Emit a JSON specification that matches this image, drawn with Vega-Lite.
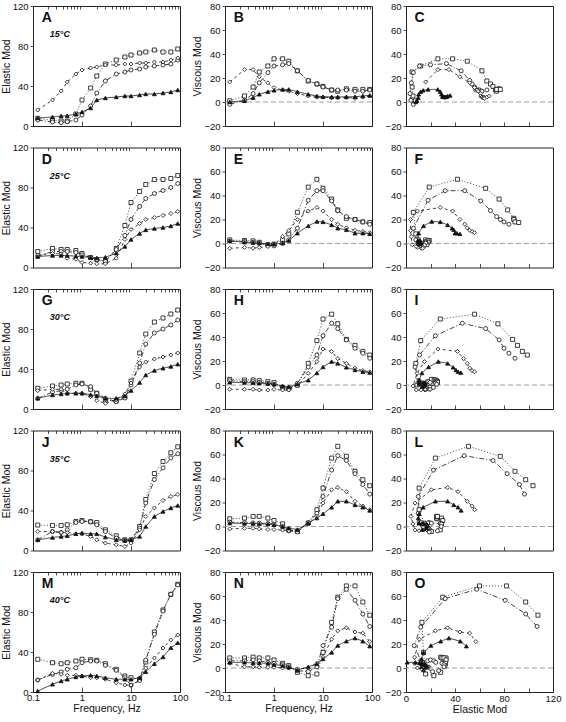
{
"$schema": "https://vega.github.io/schema/vega-lite/v6.json",
"background": "white",
"padding": {"left": 0, "top": 0, "right": 0, "bottom": 0},
"datasets": {"d": [
{"t":15,"s":"sq","f":0.125,"e":7.7,"v":1},{"t":15,"s":"sq","f":0.25,"e":5.7,"v":5},{"t":15,"s":"sq","f":0.375,"e":5,"v":12.5},{"t":15,"s":"sq","f":0.5,"e":5,"v":25},{"t":15,"s":"sq","f":0.75,"e":12,"v":30},{"t":15,"s":"sq","f":1,"e":26,"v":36},{"t":15,"s":"sq","f":1.5,"e":38,"v":36},{"t":15,"s":"sq","f":2,"e":50,"v":34},{"t":15,"s":"sq","f":3,"e":62,"v":26},{"t":15,"s":"sq","f":5,"e":66,"v":17.5},{"t":15,"s":"sq","f":7.5,"e":69,"v":15},{"t":15,"s":"sq","f":10,"e":71,"v":13},{"t":15,"s":"sq","f":15,"e":73,"v":10},{"t":15,"s":"sq","f":20,"e":74,"v":9},{"t":15,"s":"sq","f":30,"e":76,"v":11},{"t":15,"s":"sq","f":45,"e":74,"v":10.5},{"t":15,"s":"sq","f":65,"e":74,"v":10.5},{"t":15,"s":"sq","f":90,"e":77,"v":10.5},
{"t":15,"s":"ci","f":0.125,"e":6,"v":-2},{"t":15,"s":"ci","f":0.25,"e":4,"v":1.4},{"t":15,"s":"ci","f":0.375,"e":3.3,"v":7},{"t":15,"s":"ci","f":0.5,"e":4.3,"v":16},{"t":15,"s":"ci","f":0.75,"e":6,"v":24.5},{"t":15,"s":"ci","f":1,"e":11,"v":30},{"t":15,"s":"ci","f":1.5,"e":20,"v":31},{"t":15,"s":"ci","f":2,"e":33,"v":32},{"t":15,"s":"ci","f":3,"e":45,"v":26},{"t":15,"s":"ci","f":5,"e":52,"v":18},{"t":15,"s":"ci","f":7.5,"e":54,"v":15},{"t":15,"s":"ci","f":10,"e":56,"v":12.5},{"t":15,"s":"ci","f":15,"e":57,"v":10},{"t":15,"s":"ci","f":20,"e":59,"v":10},{"t":15,"s":"ci","f":30,"e":60,"v":10},{"t":15,"s":"ci","f":45,"e":61,"v":9},{"t":15,"s":"ci","f":65,"e":62,"v":9},{"t":15,"s":"ci","f":90,"e":66,"v":10},
{"t":15,"s":"di","f":0.125,"e":16,"v":16.7},{"t":15,"s":"di","f":0.25,"e":26,"v":27},{"t":15,"s":"di","f":0.375,"e":35,"v":27},{"t":15,"s":"di","f":0.5,"e":44,"v":21},{"t":15,"s":"di","f":0.75,"e":52,"v":16},{"t":15,"s":"di","f":1,"e":56,"v":12},{"t":15,"s":"di","f":1.5,"e":58,"v":10},{"t":15,"s":"di","f":2,"e":59,"v":9},{"t":15,"s":"di","f":3,"e":61,"v":7},{"t":15,"s":"di","f":5,"e":61,"v":5},{"t":15,"s":"di","f":7.5,"e":62,"v":4},{"t":15,"s":"di","f":10,"e":62,"v":4},{"t":15,"s":"di","f":15,"e":63,"v":3.6},{"t":15,"s":"di","f":20,"e":63,"v":3.6},{"t":15,"s":"di","f":30,"e":64,"v":4},{"t":15,"s":"di","f":45,"e":64,"v":3},{"t":15,"s":"di","f":65,"e":66,"v":4},{"t":15,"s":"di","f":90,"e":68,"v":5},
{"t":15,"s":"tr","f":0.125,"e":8,"v":0},{"t":15,"s":"tr","f":0.25,"e":9,"v":1},{"t":15,"s":"tr","f":0.375,"e":10,"v":3.6},{"t":15,"s":"tr","f":0.5,"e":10.3,"v":6.4},{"t":15,"s":"tr","f":0.75,"e":12,"v":8.6},{"t":15,"s":"tr","f":1,"e":14,"v":9.7},{"t":15,"s":"tr","f":1.5,"e":18,"v":10.5},{"t":15,"s":"tr","f":2,"e":26,"v":10.5},{"t":15,"s":"tr","f":3,"e":28,"v":8.6},{"t":15,"s":"tr","f":5,"e":29,"v":6.4},{"t":15,"s":"tr","f":7.5,"e":30,"v":5},{"t":15,"s":"tr","f":10,"e":30,"v":4.4},{"t":15,"s":"tr","f":15,"e":31,"v":4.2},{"t":15,"s":"tr","f":20,"e":32,"v":4.2},{"t":15,"s":"tr","f":30,"e":32,"v":4.2},{"t":15,"s":"tr","f":45,"e":33,"v":4.4},{"t":15,"s":"tr","f":65,"e":34,"v":5},{"t":15,"s":"tr","f":90,"e":36,"v":5.5},
{"t":25,"s":"sq","f":0.125,"e":16,"v":3},{"t":25,"s":"sq","f":0.25,"e":19,"v":2.5},{"t":25,"s":"sq","f":0.375,"e":18,"v":2.2},{"t":25,"s":"sq","f":0.5,"e":18,"v":1},{"t":25,"s":"sq","f":0.75,"e":17,"v":-1},{"t":25,"s":"sq","f":1,"e":14,"v":-0.5},{"t":25,"s":"sq","f":1.5,"e":10,"v":3},{"t":25,"s":"sq","f":2,"e":8,"v":8},{"t":25,"s":"sq","f":3,"e":6,"v":26},{"t":25,"s":"sq","f":5,"e":19,"v":47},{"t":25,"s":"sq","f":7.5,"e":42,"v":53.5},{"t":25,"s":"sq","f":10,"e":65,"v":46},{"t":25,"s":"sq","f":15,"e":76,"v":37},{"t":25,"s":"sq","f":20,"e":83,"v":28},{"t":25,"s":"sq","f":30,"e":88,"v":21},{"t":25,"s":"sq","f":45,"e":88,"v":20},{"t":25,"s":"sq","f":65,"e":89,"v":18},{"t":25,"s":"sq","f":90,"e":92,"v":17.5},
{"t":25,"s":"ci","f":0.125,"e":11,"v":2},{"t":25,"s":"ci","f":0.25,"e":16,"v":1.7},{"t":25,"s":"ci","f":0.375,"e":16,"v":1},{"t":25,"s":"ci","f":0.5,"e":16,"v":0.3},{"t":25,"s":"ci","f":0.75,"e":15,"v":-1.4},{"t":25,"s":"ci","f":1,"e":12.6,"v":-2},{"t":25,"s":"ci","f":1.5,"e":10,"v":0.3},{"t":25,"s":"ci","f":2,"e":8,"v":3},{"t":25,"s":"ci","f":3,"e":6,"v":12.7},{"t":25,"s":"ci","f":5,"e":18,"v":36},{"t":25,"s":"ci","f":7.5,"e":32,"v":44},{"t":25,"s":"ci","f":10,"e":48,"v":44},{"t":25,"s":"ci","f":15,"e":61,"v":35.5},{"t":25,"s":"ci","f":20,"e":69,"v":27.4},{"t":25,"s":"ci","f":30,"e":74,"v":22.4},{"t":25,"s":"ci","f":45,"e":77,"v":20},{"t":25,"s":"ci","f":65,"e":80,"v":18},{"t":25,"s":"ci","f":90,"e":84,"v":16},
{"t":25,"s":"di","f":0.125,"e":12.6,"v":-4},{"t":25,"s":"di","f":0.25,"e":14,"v":-3.3},{"t":25,"s":"di","f":0.375,"e":13.6,"v":-3.9},{"t":25,"s":"di","f":0.5,"e":9.3,"v":-3.3},{"t":25,"s":"di","f":0.75,"e":8.3,"v":-2.5},{"t":25,"s":"di","f":1,"e":5,"v":-1},{"t":25,"s":"di","f":1.5,"e":4.3,"v":5.8},{"t":25,"s":"di","f":2,"e":3.7,"v":10.8},{"t":25,"s":"di","f":3,"e":3.7,"v":20},{"t":25,"s":"di","f":5,"e":9.3,"v":27},{"t":25,"s":"di","f":7.5,"e":28,"v":30},{"t":25,"s":"di","f":10,"e":38,"v":27},{"t":25,"s":"di","f":15,"e":44,"v":20},{"t":25,"s":"di","f":20,"e":48,"v":16},{"t":25,"s":"di","f":30,"e":50,"v":13},{"t":25,"s":"di","f":45,"e":52,"v":11},{"t":25,"s":"di","f":65,"e":54,"v":10},{"t":25,"s":"di","f":90,"e":56,"v":9},
{"t":25,"s":"tr","f":0.125,"e":11,"v":2.2},{"t":25,"s":"tr","f":0.25,"e":12,"v":1.1},{"t":25,"s":"tr","f":0.375,"e":12,"v":0.8},{"t":25,"s":"tr","f":0.5,"e":12,"v":0.3},{"t":25,"s":"tr","f":0.75,"e":11.3,"v":-0.3},{"t":25,"s":"tr","f":1,"e":11,"v":-0.3},{"t":25,"s":"tr","f":1.5,"e":10,"v":0.3},{"t":25,"s":"tr","f":2,"e":9.6,"v":2.5},{"t":25,"s":"tr","f":3,"e":10.3,"v":8.6},{"t":25,"s":"tr","f":5,"e":14.3,"v":14.7},{"t":25,"s":"tr","f":7.5,"e":21,"v":18.3},{"t":25,"s":"tr","f":10,"e":28,"v":18},{"t":25,"s":"tr","f":15,"e":34,"v":15.5},{"t":25,"s":"tr","f":20,"e":37.6,"v":12.7},{"t":25,"s":"tr","f":30,"e":39,"v":11.4},{"t":25,"s":"tr","f":45,"e":40,"v":8.6},{"t":25,"s":"tr","f":65,"e":41.5,"v":8.6},{"t":25,"s":"tr","f":90,"e":44,"v":8},
{"t":30,"s":"sq","f":0.125,"e":20.7,"v":4.7},{"t":30,"s":"sq","f":0.25,"e":23,"v":4.2},{"t":30,"s":"sq","f":0.375,"e":24,"v":4.2},{"t":30,"s":"sq","f":0.5,"e":25,"v":3.6},{"t":30,"s":"sq","f":0.75,"e":25.7,"v":2.8},{"t":30,"s":"sq","f":1,"e":25.7,"v":2},{"t":30,"s":"sq","f":1.5,"e":19.7,"v":-2},{"t":30,"s":"sq","f":2,"e":15.7,"v":-2.8},{"t":30,"s":"sq","f":3,"e":9,"v":0},{"t":30,"s":"sq","f":5,"e":8,"v":18},{"t":30,"s":"sq","f":7.5,"e":12,"v":37},{"t":30,"s":"sq","f":10,"e":28,"v":55},{"t":30,"s":"sq","f":15,"e":56,"v":59},{"t":30,"s":"sq","f":20,"e":75,"v":51},{"t":30,"s":"sq","f":30,"e":87,"v":38},{"t":30,"s":"sq","f":45,"e":91,"v":33},{"t":30,"s":"sq","f":65,"e":95,"v":28},{"t":30,"s":"sq","f":90,"e":99,"v":25},
{"t":30,"s":"ci","f":0.125,"e":10.7,"v":3.6},{"t":30,"s":"ci","f":0.25,"e":17,"v":2.8},{"t":30,"s":"ci","f":0.375,"e":18.4,"v":2.8},{"t":30,"s":"ci","f":0.5,"e":19.7,"v":2.2},{"t":30,"s":"ci","f":0.75,"e":24,"v":1.4},{"t":30,"s":"ci","f":1,"e":25,"v":0.6},{"t":30,"s":"ci","f":1.5,"e":22.4,"v":-2},{"t":30,"s":"ci","f":2,"e":15.7,"v":-3.6},{"t":30,"s":"ci","f":3,"e":10.7,"v":1.4},{"t":30,"s":"ci","f":5,"e":7.4,"v":15},{"t":30,"s":"ci","f":7.5,"e":11,"v":25},{"t":30,"s":"ci","f":10,"e":24,"v":41},{"t":30,"s":"ci","f":15,"e":46,"v":51.5},{"t":30,"s":"ci","f":20,"e":65,"v":47},{"t":30,"s":"ci","f":30,"e":76,"v":37.6},{"t":30,"s":"ci","f":45,"e":80,"v":30.6},{"t":30,"s":"ci","f":65,"e":84,"v":26.5},{"t":30,"s":"ci","f":90,"e":89,"v":22.3},
{"t":30,"s":"di","f":0.125,"e":18.4,"v":-3.6},{"t":30,"s":"di","f":0.25,"e":19.7,"v":-3.6},{"t":30,"s":"di","f":0.375,"e":19.7,"v":-3.6},{"t":30,"s":"di","f":0.5,"e":15.7,"v":-4.2},{"t":30,"s":"di","f":0.75,"e":15.7,"v":-4.2},{"t":30,"s":"di","f":1,"e":15.7,"v":-3.6},{"t":30,"s":"di","f":1.5,"e":12.4,"v":-4.2},{"t":30,"s":"di","f":2,"e":8.4,"v":-4.2},{"t":30,"s":"di","f":3,"e":5.7,"v":-0.8},{"t":30,"s":"di","f":5,"e":9,"v":9.7},{"t":30,"s":"di","f":7.5,"e":15,"v":19.5},{"t":30,"s":"di","f":10,"e":26,"v":30},{"t":30,"s":"di","f":15,"e":42,"v":28},{"t":30,"s":"di","f":20,"e":47,"v":22},{"t":30,"s":"di","f":30,"e":50,"v":18},{"t":30,"s":"di","f":45,"e":52,"v":14},{"t":30,"s":"di","f":65,"e":54,"v":12},{"t":30,"s":"di","f":90,"e":56,"v":11},
{"t":30,"s":"tr","f":0.125,"e":10.7,"v":2.2},{"t":30,"s":"tr","f":0.25,"e":14,"v":2},{"t":30,"s":"tr","f":0.375,"e":15,"v":1.8},{"t":30,"s":"tr","f":0.5,"e":15.7,"v":1.5},{"t":30,"s":"tr","f":0.75,"e":15.7,"v":1.2},{"t":30,"s":"tr","f":1,"e":15.7,"v":0.6},{"t":30,"s":"tr","f":1.5,"e":14.4,"v":-0.8},{"t":30,"s":"tr","f":2,"e":13,"v":-1.4},{"t":30,"s":"tr","f":3,"e":10.7,"v":0.8},{"t":30,"s":"tr","f":5,"e":10.7,"v":4},{"t":30,"s":"tr","f":7.5,"e":13,"v":10},{"t":30,"s":"tr","f":10,"e":18.4,"v":15},{"t":30,"s":"tr","f":15,"e":26.4,"v":19.5},{"t":30,"s":"tr","f":20,"e":34,"v":18},{"t":30,"s":"tr","f":30,"e":38.5,"v":14.7},{"t":30,"s":"tr","f":45,"e":40.8,"v":12.5},{"t":30,"s":"tr","f":65,"e":42.5,"v":11},{"t":30,"s":"tr","f":90,"e":44.8,"v":10.3},
{"t":35,"s":"sq","f":0.125,"e":25.4,"v":6.4},{"t":35,"s":"sq","f":0.25,"e":25,"v":7},{"t":35,"s":"sq","f":0.375,"e":25,"v":8.4},{"t":35,"s":"sq","f":0.5,"e":25.7,"v":8.4},{"t":35,"s":"sq","f":0.75,"e":29,"v":7},{"t":35,"s":"sq","f":1,"e":30,"v":5},{"t":35,"s":"sq","f":1.5,"e":28.8,"v":2.2},{"t":35,"s":"sq","f":2,"e":28,"v":-2.8},{"t":35,"s":"sq","f":3,"e":20.7,"v":-4.2},{"t":35,"s":"sq","f":5,"e":14.7,"v":2.8},{"t":35,"s":"sq","f":7.5,"e":10.7,"v":14},{"t":35,"s":"sq","f":10,"e":10.7,"v":32},{"t":35,"s":"sq","f":15,"e":24,"v":57},{"t":35,"s":"sq","f":20,"e":51,"v":66.8},{"t":35,"s":"sq","f":30,"e":77,"v":58.5},{"t":35,"s":"sq","f":45,"e":89,"v":46},{"t":35,"s":"sq","f":65,"e":97.7,"v":39},{"t":35,"s":"sq","f":90,"e":103.7,"v":34},
{"t":35,"s":"ci","f":0.125,"e":10.7,"v":3.6},{"t":35,"s":"ci","f":0.25,"e":19,"v":3.3},{"t":35,"s":"ci","f":0.375,"e":18,"v":3},{"t":35,"s":"ci","f":0.5,"e":20.7,"v":2.8},{"t":35,"s":"ci","f":0.75,"e":28,"v":2.5},{"t":35,"s":"ci","f":1,"e":29,"v":2},{"t":35,"s":"ci","f":1.5,"e":28.8,"v":0},{"t":35,"s":"ci","f":2,"e":25.7,"v":-3.6},{"t":35,"s":"ci","f":3,"e":19,"v":-4.5},{"t":35,"s":"ci","f":5,"e":12.4,"v":3.3},{"t":35,"s":"ci","f":7.5,"e":10,"v":11},{"t":35,"s":"ci","f":10,"e":10,"v":25},{"t":35,"s":"ci","f":15,"e":22.4,"v":47},{"t":35,"s":"ci","f":20,"e":47.5,"v":59},{"t":35,"s":"ci","f":30,"e":71,"v":55},{"t":35,"s":"ci","f":45,"e":82.6,"v":44},{"t":35,"s":"ci","f":65,"e":92.6,"v":35},{"t":35,"s":"ci","f":90,"e":96.7,"v":27},
{"t":35,"s":"di","f":0.125,"e":19,"v":-2},{"t":35,"s":"di","f":0.25,"e":19,"v":-1.5},{"t":35,"s":"di","f":0.375,"e":18,"v":-1.5},{"t":35,"s":"di","f":0.5,"e":18,"v":-2},{"t":35,"s":"di","f":0.75,"e":16.7,"v":-2.5},{"t":35,"s":"di","f":1,"e":16.7,"v":-2.5},{"t":35,"s":"di","f":1.5,"e":14,"v":-3},{"t":35,"s":"di","f":2,"e":10.7,"v":-3.5},{"t":35,"s":"di","f":3,"e":7.4,"v":-3},{"t":35,"s":"di","f":5,"e":5.7,"v":2.2},{"t":35,"s":"di","f":7.5,"e":4,"v":8.4},{"t":35,"s":"di","f":10,"e":7.4,"v":19.5},{"t":35,"s":"di","f":15,"e":20.7,"v":30.6},{"t":35,"s":"di","f":20,"e":34,"v":32.5},{"t":35,"s":"di","f":30,"e":42.5,"v":29},{"t":35,"s":"di","f":45,"e":50,"v":21},{"t":35,"s":"di","f":65,"e":54,"v":17},{"t":35,"s":"di","f":90,"e":56,"v":14},
{"t":35,"s":"tr","f":0.125,"e":10.7,"v":2.8},{"t":35,"s":"tr","f":0.25,"e":13,"v":2.5},{"t":35,"s":"tr","f":0.375,"e":14,"v":2.5},{"t":35,"s":"tr","f":0.5,"e":14.7,"v":2.2},{"t":35,"s":"tr","f":0.75,"e":16.7,"v":2},{"t":35,"s":"tr","f":1,"e":17.4,"v":1.4},{"t":35,"s":"tr","f":1.5,"e":16.7,"v":0},{"t":35,"s":"tr","f":2,"e":16.7,"v":-1.4},{"t":35,"s":"tr","f":3,"e":13.4,"v":-2.5},{"t":35,"s":"tr","f":5,"e":10.7,"v":2.8},{"t":35,"s":"tr","f":7.5,"e":10,"v":7},{"t":35,"s":"tr","f":10,"e":10.7,"v":10.6},{"t":35,"s":"tr","f":15,"e":14,"v":16},{"t":35,"s":"tr","f":20,"e":24,"v":21},{"t":35,"s":"tr","f":30,"e":34,"v":21},{"t":35,"s":"tr","f":45,"e":39,"v":18},{"t":35,"s":"tr","f":65,"e":42.5,"v":16},{"t":35,"s":"tr","f":90,"e":45,"v":13.4},
{"t":40,"s":"sq","f":0.125,"e":32.7,"v":8.4},{"t":40,"s":"sq","f":0.25,"e":29.3,"v":8.4},{"t":40,"s":"sq","f":0.375,"e":28.3,"v":9},{"t":40,"s":"sq","f":0.5,"e":29.3,"v":8.4},{"t":40,"s":"sq","f":0.75,"e":31,"v":8.4},{"t":40,"s":"sq","f":1,"e":32.7,"v":6.7},{"t":40,"s":"sq","f":1.5,"e":32.3,"v":3.9},{"t":40,"s":"sq","f":2,"e":31.7,"v":2},{"t":40,"s":"sq","f":3,"e":28.3,"v":-3.6},{"t":40,"s":"sq","f":5,"e":22.7,"v":-6.4},{"t":40,"s":"sq","f":7.5,"e":16,"v":-5},{"t":40,"s":"sq","f":10,"e":14.3,"v":13},{"t":40,"s":"sq","f":15,"e":13,"v":38},{"t":40,"s":"sq","f":20,"e":30,"v":59},{"t":40,"s":"sq","f":30,"e":60,"v":68.4},{"t":40,"s":"sq","f":45,"e":82,"v":68.4},{"t":40,"s":"sq","f":65,"e":97.7,"v":55},{"t":40,"s":"sq","f":90,"e":107.7,"v":44},
{"t":40,"s":"ci","f":0.125,"e":12,"v":6},{"t":40,"s":"ci","f":0.25,"e":17.7,"v":6},{"t":40,"s":"ci","f":0.375,"e":20,"v":6.7},{"t":40,"s":"ci","f":0.5,"e":22.7,"v":6},{"t":40,"s":"ci","f":0.75,"e":24.3,"v":4.7},{"t":40,"s":"ci","f":1,"e":29.3,"v":3.9},{"t":40,"s":"ci","f":1.5,"e":31,"v":2.8},{"t":40,"s":"ci","f":2,"e":31,"v":1},{"t":40,"s":"ci","f":3,"e":26.7,"v":-2.2},{"t":40,"s":"ci","f":5,"e":21.7,"v":-3},{"t":40,"s":"ci","f":7.5,"e":14.3,"v":1},{"t":40,"s":"ci","f":10,"e":6.7,"v":18.7},{"t":40,"s":"ci","f":15,"e":12,"v":34},{"t":40,"s":"ci","f":20,"e":32,"v":57.8},{"t":40,"s":"ci","f":30,"e":57.7,"v":65.6},{"t":40,"s":"ci","f":45,"e":81,"v":56.4},{"t":40,"s":"ci","f":65,"e":97.7,"v":45},{"t":40,"s":"ci","f":90,"e":107,"v":34.6},
{"t":40,"s":"di","f":0.125,"e":12,"v":3.9},{"t":40,"s":"di","f":0.25,"e":18.7,"v":1},{"t":40,"s":"di","f":0.375,"e":17.7,"v":1},{"t":40,"s":"di","f":0.5,"e":16.7,"v":0.6},{"t":40,"s":"di","f":0.75,"e":16.7,"v":0.6},{"t":40,"s":"di","f":1,"e":16,"v":0.6},{"t":40,"s":"di","f":1.5,"e":14.3,"v":0},{"t":40,"s":"di","f":2,"e":14.3,"v":0},{"t":40,"s":"di","f":3,"e":12.7,"v":-0.8},{"t":40,"s":"di","f":5,"e":9.3,"v":0},{"t":40,"s":"di","f":7.5,"e":7,"v":3.9},{"t":40,"s":"di","f":10,"e":7,"v":9},{"t":40,"s":"di","f":15,"e":11,"v":24},{"t":40,"s":"di","f":20,"e":24,"v":31},{"t":40,"s":"di","f":30,"e":34,"v":33.5},{"t":40,"s":"di","f":45,"e":44,"v":30},{"t":40,"s":"di","f":65,"e":52,"v":29},{"t":40,"s":"di","f":90,"e":57,"v":22},
{"t":40,"s":"tr","f":0.125,"e":1,"v":4.7},{"t":40,"s":"tr","f":0.25,"e":7.7,"v":4.7},{"t":40,"s":"tr","f":0.375,"e":11,"v":4.2},{"t":40,"s":"tr","f":0.5,"e":12.7,"v":4.2},{"t":40,"s":"tr","f":0.75,"e":15,"v":3.9},{"t":40,"s":"tr","f":1,"e":16,"v":2.8},{"t":40,"s":"tr","f":1.5,"e":16.7,"v":2},{"t":40,"s":"tr","f":2,"e":16,"v":0.6},{"t":40,"s":"tr","f":3,"e":14.3,"v":-1.7},{"t":40,"s":"tr","f":5,"e":12.7,"v":1},{"t":40,"s":"tr","f":7.5,"e":12.7,"v":3.4},{"t":40,"s":"tr","f":10,"e":12.7,"v":7.5},{"t":40,"s":"tr","f":15,"e":14.3,"v":13},{"t":40,"s":"tr","f":20,"e":20.3,"v":18.7},{"t":40,"s":"tr","f":30,"e":28.3,"v":22.3},{"t":40,"s":"tr","f":45,"e":35,"v":24.9},{"t":40,"s":"tr","f":65,"e":44.3,"v":22.3},{"t":40,"s":"tr","f":90,"e":49.3,"v":18.2}
]},
"spacing": 3,
"hconcat": [
{"spacing": 10.5, "vconcat": [
{"width":147,"height":120,"resolve":{"axis":{"x":"independent"}},"layer":[
{"layer":[
{"data":{"name":"d"},"transform":[{"filter":"datum.t==15"}],"mark":{"type":"line","color":"#111","strokeWidth":0.8},"encoding":{"x":{"field":"f","type":"quantitative","scale":{"type":"log","domain":[0.1,100],"nice":false},"axis":{"values":[0.1,1,10,100],"tickSize":-5,"labels":false,"title":null}},"y":{"field":"e","type":"quantitative","scale":{"domain":[0,120],"nice":false},"axis":{"values":[0,40,80,120],"title":"Elastic Mod","labelOverlap":false}},"strokeDash":{"field":"s","type":"nominal","scale":{"domain":["sq","ci","di","tr"],"range":[[1,2],[5,2,1,2],[3,3],[1,0]]},"legend":null},"order":{"field":"f","type":"quantitative"}}},
{"data":{"values":[{}]},"mark":{"type":"text","text":"A","fontSize":14,"fontWeight":"bold","align":"left","baseline":"middle"},"encoding":{"x":{"datum":0.15,"type":"quantitative","axis":{"values":[0.1,1,10,100],"tickSize":-5,"labels":false,"title":null}},"y":{"datum":108,"type":"quantitative","axis":{"values":[0,40,80,120],"title":"Elastic Mod","labelOverlap":false}}}},
{"data":{"values":[{}]},"mark":{"type":"text","text":"15°C","fontSize":9,"fontWeight":"bold","fontStyle":"italic","align":"left","baseline":"middle"},"encoding":{"x":{"datum":0.22,"type":"quantitative","axis":{"values":[0.1,1,10,100],"tickSize":-5,"labels":false,"title":null}},"y":{"datum":92,"type":"quantitative","axis":{"values":[0,40,80,120],"title":"Elastic Mod","labelOverlap":false}}}}
]},
{"data":{"name":"d"},"transform":[{"filter":"datum.t==15"}],"mark":{"type":"point","filled":true,"opacity":1,"stroke":"#111","strokeWidth":0.8,"size":16},"encoding":{"x":{"field":"f","type":"quantitative","axis":{"values":[0.2,0.3,0.4,0.5,0.6,0.7,0.8,0.9,2,3,4,5,6,7,8,9,20,30,40,50,60,70,80,90],"tickSize":-3,"labels":false,"title":null}},"y":{"field":"e","type":"quantitative","axis":{"values":[0,40,80,120],"title":"Elastic Mod","labelOverlap":false}},"shape":{"field":"s","type":"nominal","scale":{"domain":["sq","ci","di","tr"],"range":["square","circle","diamond","triangle-up"]},"legend":null},"fill":{"field":"s","type":"nominal","scale":{"domain":["sq","ci","di","tr"],"range":["white","white","white","#111"]},"legend":null}}}
]},
{"width":147,"height":120,"resolve":{"axis":{"x":"independent"}},"layer":[
{"layer":[
{"data":{"name":"d"},"transform":[{"filter":"datum.t==25"}],"mark":{"type":"line","color":"#111","strokeWidth":0.8},"encoding":{"x":{"field":"f","type":"quantitative","scale":{"type":"log","domain":[0.1,100],"nice":false},"axis":{"values":[0.1,1,10,100],"tickSize":-5,"labels":false,"title":null}},"y":{"field":"e","type":"quantitative","scale":{"domain":[0,120],"nice":false},"axis":{"values":[0,40,80,120],"title":"Elastic Mod","labelOverlap":false}},"strokeDash":{"field":"s","type":"nominal","scale":{"domain":["sq","ci","di","tr"],"range":[[1,2],[5,2,1,2],[3,3],[1,0]]},"legend":null},"order":{"field":"f","type":"quantitative"}}},
{"data":{"values":[{}]},"mark":{"type":"text","text":"D","fontSize":14,"fontWeight":"bold","align":"left","baseline":"middle"},"encoding":{"x":{"datum":0.15,"type":"quantitative","axis":{"values":[0.1,1,10,100],"tickSize":-5,"labels":false,"title":null}},"y":{"datum":108,"type":"quantitative","axis":{"values":[0,40,80,120],"title":"Elastic Mod","labelOverlap":false}}}},
{"data":{"values":[{}]},"mark":{"type":"text","text":"25°C","fontSize":9,"fontWeight":"bold","fontStyle":"italic","align":"left","baseline":"middle"},"encoding":{"x":{"datum":0.22,"type":"quantitative","axis":{"values":[0.1,1,10,100],"tickSize":-5,"labels":false,"title":null}},"y":{"datum":92,"type":"quantitative","axis":{"values":[0,40,80,120],"title":"Elastic Mod","labelOverlap":false}}}}
]},
{"data":{"name":"d"},"transform":[{"filter":"datum.t==25"}],"mark":{"type":"point","filled":true,"opacity":1,"stroke":"#111","strokeWidth":0.8,"size":16},"encoding":{"x":{"field":"f","type":"quantitative","axis":{"values":[0.2,0.3,0.4,0.5,0.6,0.7,0.8,0.9,2,3,4,5,6,7,8,9,20,30,40,50,60,70,80,90],"tickSize":-3,"labels":false,"title":null}},"y":{"field":"e","type":"quantitative","axis":{"values":[0,40,80,120],"title":"Elastic Mod","labelOverlap":false}},"shape":{"field":"s","type":"nominal","scale":{"domain":["sq","ci","di","tr"],"range":["square","circle","diamond","triangle-up"]},"legend":null},"fill":{"field":"s","type":"nominal","scale":{"domain":["sq","ci","di","tr"],"range":["white","white","white","#111"]},"legend":null}}}
]},
{"width":147,"height":120,"resolve":{"axis":{"x":"independent"}},"layer":[
{"layer":[
{"data":{"name":"d"},"transform":[{"filter":"datum.t==30"}],"mark":{"type":"line","color":"#111","strokeWidth":0.8},"encoding":{"x":{"field":"f","type":"quantitative","scale":{"type":"log","domain":[0.1,100],"nice":false},"axis":{"values":[0.1,1,10,100],"tickSize":-5,"labels":false,"title":null}},"y":{"field":"e","type":"quantitative","scale":{"domain":[0,120],"nice":false},"axis":{"values":[0,40,80,120],"title":"Elastic Mod","labelOverlap":false}},"strokeDash":{"field":"s","type":"nominal","scale":{"domain":["sq","ci","di","tr"],"range":[[1,2],[5,2,1,2],[3,3],[1,0]]},"legend":null},"order":{"field":"f","type":"quantitative"}}},
{"data":{"values":[{}]},"mark":{"type":"text","text":"G","fontSize":14,"fontWeight":"bold","align":"left","baseline":"middle"},"encoding":{"x":{"datum":0.15,"type":"quantitative","axis":{"values":[0.1,1,10,100],"tickSize":-5,"labels":false,"title":null}},"y":{"datum":108,"type":"quantitative","axis":{"values":[0,40,80,120],"title":"Elastic Mod","labelOverlap":false}}}},
{"data":{"values":[{}]},"mark":{"type":"text","text":"30°C","fontSize":9,"fontWeight":"bold","fontStyle":"italic","align":"left","baseline":"middle"},"encoding":{"x":{"datum":0.22,"type":"quantitative","axis":{"values":[0.1,1,10,100],"tickSize":-5,"labels":false,"title":null}},"y":{"datum":92,"type":"quantitative","axis":{"values":[0,40,80,120],"title":"Elastic Mod","labelOverlap":false}}}}
]},
{"data":{"name":"d"},"transform":[{"filter":"datum.t==30"}],"mark":{"type":"point","filled":true,"opacity":1,"stroke":"#111","strokeWidth":0.8,"size":16},"encoding":{"x":{"field":"f","type":"quantitative","axis":{"values":[0.2,0.3,0.4,0.5,0.6,0.7,0.8,0.9,2,3,4,5,6,7,8,9,20,30,40,50,60,70,80,90],"tickSize":-3,"labels":false,"title":null}},"y":{"field":"e","type":"quantitative","axis":{"values":[0,40,80,120],"title":"Elastic Mod","labelOverlap":false}},"shape":{"field":"s","type":"nominal","scale":{"domain":["sq","ci","di","tr"],"range":["square","circle","diamond","triangle-up"]},"legend":null},"fill":{"field":"s","type":"nominal","scale":{"domain":["sq","ci","di","tr"],"range":["white","white","white","#111"]},"legend":null}}}
]},
{"width":147,"height":120,"resolve":{"axis":{"x":"independent"}},"layer":[
{"layer":[
{"data":{"name":"d"},"transform":[{"filter":"datum.t==35"}],"mark":{"type":"line","color":"#111","strokeWidth":0.8},"encoding":{"x":{"field":"f","type":"quantitative","scale":{"type":"log","domain":[0.1,100],"nice":false},"axis":{"values":[0.1,1,10,100],"tickSize":-5,"labels":false,"title":null}},"y":{"field":"e","type":"quantitative","scale":{"domain":[0,120],"nice":false},"axis":{"values":[0,40,80,120],"title":"Elastic Mod","labelOverlap":false}},"strokeDash":{"field":"s","type":"nominal","scale":{"domain":["sq","ci","di","tr"],"range":[[1,2],[5,2,1,2],[3,3],[1,0]]},"legend":null},"order":{"field":"f","type":"quantitative"}}},
{"data":{"values":[{}]},"mark":{"type":"text","text":"J","fontSize":14,"fontWeight":"bold","align":"left","baseline":"middle"},"encoding":{"x":{"datum":0.15,"type":"quantitative","axis":{"values":[0.1,1,10,100],"tickSize":-5,"labels":false,"title":null}},"y":{"datum":108,"type":"quantitative","axis":{"values":[0,40,80,120],"title":"Elastic Mod","labelOverlap":false}}}},
{"data":{"values":[{}]},"mark":{"type":"text","text":"35°C","fontSize":9,"fontWeight":"bold","fontStyle":"italic","align":"left","baseline":"middle"},"encoding":{"x":{"datum":0.22,"type":"quantitative","axis":{"values":[0.1,1,10,100],"tickSize":-5,"labels":false,"title":null}},"y":{"datum":92,"type":"quantitative","axis":{"values":[0,40,80,120],"title":"Elastic Mod","labelOverlap":false}}}}
]},
{"data":{"name":"d"},"transform":[{"filter":"datum.t==35"}],"mark":{"type":"point","filled":true,"opacity":1,"stroke":"#111","strokeWidth":0.8,"size":16},"encoding":{"x":{"field":"f","type":"quantitative","axis":{"values":[0.2,0.3,0.4,0.5,0.6,0.7,0.8,0.9,2,3,4,5,6,7,8,9,20,30,40,50,60,70,80,90],"tickSize":-3,"labels":false,"title":null}},"y":{"field":"e","type":"quantitative","axis":{"values":[0,40,80,120],"title":"Elastic Mod","labelOverlap":false}},"shape":{"field":"s","type":"nominal","scale":{"domain":["sq","ci","di","tr"],"range":["square","circle","diamond","triangle-up"]},"legend":null},"fill":{"field":"s","type":"nominal","scale":{"domain":["sq","ci","di","tr"],"range":["white","white","white","#111"]},"legend":null}}}
]},
{"width":147,"height":120,"resolve":{"axis":{"x":"independent"}},"layer":[
{"layer":[
{"data":{"name":"d"},"transform":[{"filter":"datum.t==40"}],"mark":{"type":"line","color":"#111","strokeWidth":0.8},"encoding":{"x":{"field":"f","type":"quantitative","scale":{"type":"log","domain":[0.1,100],"nice":false},"axis":{"values":[0.1,1,10,100],"tickSize":-5,"labelExpr":"datum.value < 1 ? '0.1' : format(datum.value, 'd')","title":"Frequency, Hz","labelOverlap":false}},"y":{"field":"e","type":"quantitative","scale":{"domain":[0,120],"nice":false},"axis":{"values":[0,40,80,120],"title":"Elastic Mod","labelOverlap":false}},"strokeDash":{"field":"s","type":"nominal","scale":{"domain":["sq","ci","di","tr"],"range":[[1,2],[5,2,1,2],[3,3],[1,0]]},"legend":null},"order":{"field":"f","type":"quantitative"}}},
{"data":{"values":[{}]},"mark":{"type":"text","text":"M","fontSize":14,"fontWeight":"bold","align":"left","baseline":"middle"},"encoding":{"x":{"datum":0.15,"type":"quantitative","axis":{"values":[0.1,1,10,100],"tickSize":-5,"labelExpr":"datum.value < 1 ? '0.1' : format(datum.value, 'd')","title":"Frequency, Hz","labelOverlap":false}},"y":{"datum":108,"type":"quantitative","axis":{"values":[0,40,80,120],"title":"Elastic Mod","labelOverlap":false}}}},
{"data":{"values":[{}]},"mark":{"type":"text","text":"40°C","fontSize":9,"fontWeight":"bold","fontStyle":"italic","align":"left","baseline":"middle"},"encoding":{"x":{"datum":0.22,"type":"quantitative","axis":{"values":[0.1,1,10,100],"tickSize":-5,"labelExpr":"datum.value < 1 ? '0.1' : format(datum.value, 'd')","title":"Frequency, Hz","labelOverlap":false}},"y":{"datum":92,"type":"quantitative","axis":{"values":[0,40,80,120],"title":"Elastic Mod","labelOverlap":false}}}}
]},
{"data":{"name":"d"},"transform":[{"filter":"datum.t==40"}],"mark":{"type":"point","filled":true,"opacity":1,"stroke":"#111","strokeWidth":0.8,"size":16},"encoding":{"x":{"field":"f","type":"quantitative","axis":{"values":[0.2,0.3,0.4,0.5,0.6,0.7,0.8,0.9,2,3,4,5,6,7,8,9,20,30,40,50,60,70,80,90],"tickSize":-3,"labels":false,"title":null}},"y":{"field":"e","type":"quantitative","axis":{"values":[0,40,80,120],"title":"Elastic Mod","labelOverlap":false}},"shape":{"field":"s","type":"nominal","scale":{"domain":["sq","ci","di","tr"],"range":["square","circle","diamond","triangle-up"]},"legend":null},"fill":{"field":"s","type":"nominal","scale":{"domain":["sq","ci","di","tr"],"range":["white","white","white","#111"]},"legend":null}}}
]}
]},
{"spacing": 10.5, "vconcat": [
{"width":147,"height":120,"resolve":{"axis":{"x":"independent"}},"layer":[
{"layer":[
{"data":{"values":[{}]},"mark":{"type":"rule","color":"#888","strokeDash":[5,3],"strokeWidth":0.8},"encoding":{"y":{"datum":0,"type":"quantitative","axis":{"values":[-20,0,20,40,60,80],"title":"Viscous Mod","labelOverlap":false}}}},
{"data":{"name":"d"},"transform":[{"filter":"datum.t==15"}],"mark":{"type":"line","color":"#111","strokeWidth":0.8},"encoding":{"x":{"field":"f","type":"quantitative","scale":{"type":"log","domain":[0.1,100],"nice":false},"axis":{"values":[0.1,1,10,100],"tickSize":-5,"labels":false,"title":null}},"y":{"field":"v","type":"quantitative","scale":{"domain":[-20,80],"nice":false},"axis":{"values":[-20,0,20,40,60,80],"title":"Viscous Mod","labelOverlap":false}},"strokeDash":{"field":"s","type":"nominal","scale":{"domain":["sq","ci","di","tr"],"range":[[1,2],[5,2,1,2],[3,3],[1,0]]},"legend":null},"order":{"field":"f","type":"quantitative"}}},
{"data":{"values":[{}]},"mark":{"type":"text","text":"B","fontSize":14,"fontWeight":"bold","align":"left","baseline":"middle"},"encoding":{"x":{"datum":0.15,"type":"quantitative","axis":{"values":[0.1,1,10,100],"tickSize":-5,"labels":false,"title":null}},"y":{"datum":70,"type":"quantitative","axis":{"values":[-20,0,20,40,60,80],"title":"Viscous Mod","labelOverlap":false}}}}
]},
{"data":{"name":"d"},"transform":[{"filter":"datum.t==15"}],"mark":{"type":"point","filled":true,"opacity":1,"stroke":"#111","strokeWidth":0.8,"size":16},"encoding":{"x":{"field":"f","type":"quantitative","axis":{"values":[0.2,0.3,0.4,0.5,0.6,0.7,0.8,0.9,2,3,4,5,6,7,8,9,20,30,40,50,60,70,80,90],"tickSize":-3,"labels":false,"title":null}},"y":{"field":"v","type":"quantitative","axis":{"values":[-20,0,20,40,60,80],"title":"Viscous Mod","labelOverlap":false}},"shape":{"field":"s","type":"nominal","scale":{"domain":["sq","ci","di","tr"],"range":["square","circle","diamond","triangle-up"]},"legend":null},"fill":{"field":"s","type":"nominal","scale":{"domain":["sq","ci","di","tr"],"range":["white","white","white","#111"]},"legend":null}}}
]},
{"width":147,"height":120,"resolve":{"axis":{"x":"independent"}},"layer":[
{"layer":[
{"data":{"values":[{}]},"mark":{"type":"rule","color":"#888","strokeDash":[5,3],"strokeWidth":0.8},"encoding":{"y":{"datum":0,"type":"quantitative","axis":{"values":[-20,0,20,40,60,80],"title":"Viscous Mod","labelOverlap":false}}}},
{"data":{"name":"d"},"transform":[{"filter":"datum.t==25"}],"mark":{"type":"line","color":"#111","strokeWidth":0.8},"encoding":{"x":{"field":"f","type":"quantitative","scale":{"type":"log","domain":[0.1,100],"nice":false},"axis":{"values":[0.1,1,10,100],"tickSize":-5,"labels":false,"title":null}},"y":{"field":"v","type":"quantitative","scale":{"domain":[-20,80],"nice":false},"axis":{"values":[-20,0,20,40,60,80],"title":"Viscous Mod","labelOverlap":false}},"strokeDash":{"field":"s","type":"nominal","scale":{"domain":["sq","ci","di","tr"],"range":[[1,2],[5,2,1,2],[3,3],[1,0]]},"legend":null},"order":{"field":"f","type":"quantitative"}}},
{"data":{"values":[{}]},"mark":{"type":"text","text":"E","fontSize":14,"fontWeight":"bold","align":"left","baseline":"middle"},"encoding":{"x":{"datum":0.15,"type":"quantitative","axis":{"values":[0.1,1,10,100],"tickSize":-5,"labels":false,"title":null}},"y":{"datum":70,"type":"quantitative","axis":{"values":[-20,0,20,40,60,80],"title":"Viscous Mod","labelOverlap":false}}}}
]},
{"data":{"name":"d"},"transform":[{"filter":"datum.t==25"}],"mark":{"type":"point","filled":true,"opacity":1,"stroke":"#111","strokeWidth":0.8,"size":16},"encoding":{"x":{"field":"f","type":"quantitative","axis":{"values":[0.2,0.3,0.4,0.5,0.6,0.7,0.8,0.9,2,3,4,5,6,7,8,9,20,30,40,50,60,70,80,90],"tickSize":-3,"labels":false,"title":null}},"y":{"field":"v","type":"quantitative","axis":{"values":[-20,0,20,40,60,80],"title":"Viscous Mod","labelOverlap":false}},"shape":{"field":"s","type":"nominal","scale":{"domain":["sq","ci","di","tr"],"range":["square","circle","diamond","triangle-up"]},"legend":null},"fill":{"field":"s","type":"nominal","scale":{"domain":["sq","ci","di","tr"],"range":["white","white","white","#111"]},"legend":null}}}
]},
{"width":147,"height":120,"resolve":{"axis":{"x":"independent"}},"layer":[
{"layer":[
{"data":{"values":[{}]},"mark":{"type":"rule","color":"#888","strokeDash":[5,3],"strokeWidth":0.8},"encoding":{"y":{"datum":0,"type":"quantitative","axis":{"values":[-20,0,20,40,60,80],"title":"Viscous Mod","labelOverlap":false}}}},
{"data":{"name":"d"},"transform":[{"filter":"datum.t==30"}],"mark":{"type":"line","color":"#111","strokeWidth":0.8},"encoding":{"x":{"field":"f","type":"quantitative","scale":{"type":"log","domain":[0.1,100],"nice":false},"axis":{"values":[0.1,1,10,100],"tickSize":-5,"labels":false,"title":null}},"y":{"field":"v","type":"quantitative","scale":{"domain":[-20,80],"nice":false},"axis":{"values":[-20,0,20,40,60,80],"title":"Viscous Mod","labelOverlap":false}},"strokeDash":{"field":"s","type":"nominal","scale":{"domain":["sq","ci","di","tr"],"range":[[1,2],[5,2,1,2],[3,3],[1,0]]},"legend":null},"order":{"field":"f","type":"quantitative"}}},
{"data":{"values":[{}]},"mark":{"type":"text","text":"H","fontSize":14,"fontWeight":"bold","align":"left","baseline":"middle"},"encoding":{"x":{"datum":0.15,"type":"quantitative","axis":{"values":[0.1,1,10,100],"tickSize":-5,"labels":false,"title":null}},"y":{"datum":70,"type":"quantitative","axis":{"values":[-20,0,20,40,60,80],"title":"Viscous Mod","labelOverlap":false}}}}
]},
{"data":{"name":"d"},"transform":[{"filter":"datum.t==30"}],"mark":{"type":"point","filled":true,"opacity":1,"stroke":"#111","strokeWidth":0.8,"size":16},"encoding":{"x":{"field":"f","type":"quantitative","axis":{"values":[0.2,0.3,0.4,0.5,0.6,0.7,0.8,0.9,2,3,4,5,6,7,8,9,20,30,40,50,60,70,80,90],"tickSize":-3,"labels":false,"title":null}},"y":{"field":"v","type":"quantitative","axis":{"values":[-20,0,20,40,60,80],"title":"Viscous Mod","labelOverlap":false}},"shape":{"field":"s","type":"nominal","scale":{"domain":["sq","ci","di","tr"],"range":["square","circle","diamond","triangle-up"]},"legend":null},"fill":{"field":"s","type":"nominal","scale":{"domain":["sq","ci","di","tr"],"range":["white","white","white","#111"]},"legend":null}}}
]},
{"width":147,"height":120,"resolve":{"axis":{"x":"independent"}},"layer":[
{"layer":[
{"data":{"values":[{}]},"mark":{"type":"rule","color":"#888","strokeDash":[5,3],"strokeWidth":0.8},"encoding":{"y":{"datum":0,"type":"quantitative","axis":{"values":[-20,0,20,40,60,80],"title":"Viscous Mod","labelOverlap":false}}}},
{"data":{"name":"d"},"transform":[{"filter":"datum.t==35"}],"mark":{"type":"line","color":"#111","strokeWidth":0.8},"encoding":{"x":{"field":"f","type":"quantitative","scale":{"type":"log","domain":[0.1,100],"nice":false},"axis":{"values":[0.1,1,10,100],"tickSize":-5,"labels":false,"title":null}},"y":{"field":"v","type":"quantitative","scale":{"domain":[-20,80],"nice":false},"axis":{"values":[-20,0,20,40,60,80],"title":"Viscous Mod","labelOverlap":false}},"strokeDash":{"field":"s","type":"nominal","scale":{"domain":["sq","ci","di","tr"],"range":[[1,2],[5,2,1,2],[3,3],[1,0]]},"legend":null},"order":{"field":"f","type":"quantitative"}}},
{"data":{"values":[{}]},"mark":{"type":"text","text":"K","fontSize":14,"fontWeight":"bold","align":"left","baseline":"middle"},"encoding":{"x":{"datum":0.15,"type":"quantitative","axis":{"values":[0.1,1,10,100],"tickSize":-5,"labels":false,"title":null}},"y":{"datum":70,"type":"quantitative","axis":{"values":[-20,0,20,40,60,80],"title":"Viscous Mod","labelOverlap":false}}}}
]},
{"data":{"name":"d"},"transform":[{"filter":"datum.t==35"}],"mark":{"type":"point","filled":true,"opacity":1,"stroke":"#111","strokeWidth":0.8,"size":16},"encoding":{"x":{"field":"f","type":"quantitative","axis":{"values":[0.2,0.3,0.4,0.5,0.6,0.7,0.8,0.9,2,3,4,5,6,7,8,9,20,30,40,50,60,70,80,90],"tickSize":-3,"labels":false,"title":null}},"y":{"field":"v","type":"quantitative","axis":{"values":[-20,0,20,40,60,80],"title":"Viscous Mod","labelOverlap":false}},"shape":{"field":"s","type":"nominal","scale":{"domain":["sq","ci","di","tr"],"range":["square","circle","diamond","triangle-up"]},"legend":null},"fill":{"field":"s","type":"nominal","scale":{"domain":["sq","ci","di","tr"],"range":["white","white","white","#111"]},"legend":null}}}
]},
{"width":147,"height":120,"resolve":{"axis":{"x":"independent"}},"layer":[
{"layer":[
{"data":{"values":[{}]},"mark":{"type":"rule","color":"#888","strokeDash":[5,3],"strokeWidth":0.8},"encoding":{"y":{"datum":0,"type":"quantitative","axis":{"values":[-20,0,20,40,60,80],"title":"Viscous Mod","labelOverlap":false}}}},
{"data":{"name":"d"},"transform":[{"filter":"datum.t==40"}],"mark":{"type":"line","color":"#111","strokeWidth":0.8},"encoding":{"x":{"field":"f","type":"quantitative","scale":{"type":"log","domain":[0.1,100],"nice":false},"axis":{"values":[0.1,1,10,100],"tickSize":-5,"labelExpr":"datum.value < 1 ? '0.1' : format(datum.value, 'd')","title":"Frequency, Hz","labelOverlap":false}},"y":{"field":"v","type":"quantitative","scale":{"domain":[-20,80],"nice":false},"axis":{"values":[-20,0,20,40,60,80],"title":"Viscous Mod","labelOverlap":false}},"strokeDash":{"field":"s","type":"nominal","scale":{"domain":["sq","ci","di","tr"],"range":[[1,2],[5,2,1,2],[3,3],[1,0]]},"legend":null},"order":{"field":"f","type":"quantitative"}}},
{"data":{"values":[{}]},"mark":{"type":"text","text":"N","fontSize":14,"fontWeight":"bold","align":"left","baseline":"middle"},"encoding":{"x":{"datum":0.15,"type":"quantitative","axis":{"values":[0.1,1,10,100],"tickSize":-5,"labelExpr":"datum.value < 1 ? '0.1' : format(datum.value, 'd')","title":"Frequency, Hz","labelOverlap":false}},"y":{"datum":70,"type":"quantitative","axis":{"values":[-20,0,20,40,60,80],"title":"Viscous Mod","labelOverlap":false}}}}
]},
{"data":{"name":"d"},"transform":[{"filter":"datum.t==40"}],"mark":{"type":"point","filled":true,"opacity":1,"stroke":"#111","strokeWidth":0.8,"size":16},"encoding":{"x":{"field":"f","type":"quantitative","axis":{"values":[0.2,0.3,0.4,0.5,0.6,0.7,0.8,0.9,2,3,4,5,6,7,8,9,20,30,40,50,60,70,80,90],"tickSize":-3,"labels":false,"title":null}},"y":{"field":"v","type":"quantitative","axis":{"values":[-20,0,20,40,60,80],"title":"Viscous Mod","labelOverlap":false}},"shape":{"field":"s","type":"nominal","scale":{"domain":["sq","ci","di","tr"],"range":["square","circle","diamond","triangle-up"]},"legend":null},"fill":{"field":"s","type":"nominal","scale":{"domain":["sq","ci","di","tr"],"range":["white","white","white","#111"]},"legend":null}}}
]}
]},
{"spacing": 10.5, "vconcat": [
{"width":147,"height":120,"layer":[
{"data":{"values":[{}]},"mark":{"type":"rule","color":"#888","strokeDash":[5,3],"strokeWidth":0.8},"encoding":{"y":{"datum":0,"type":"quantitative","axis":{"values":[-20,0,20,40,60,80],"title":null,"labelOverlap":false}}}},
{"data":{"name":"d"},"transform":[{"filter":"datum.t==15"}],"mark":{"type":"line","color":"#111","strokeWidth":0.8},"encoding":{"x":{"field":"e","type":"quantitative","scale":{"domain":[0,120],"nice":false},"axis":{"values":[0,20,40,60,80,100,120],"tickSize":-4,"labels":false,"title":null}},"y":{"field":"v","type":"quantitative","scale":{"domain":[-20,80],"nice":false},"axis":{"values":[-20,0,20,40,60,80],"title":null,"labelOverlap":false}},"strokeDash":{"field":"s","type":"nominal","scale":{"domain":["sq","ci","di","tr"],"range":[[1,2],[5,2,1,2],[3,3],[1,0]]},"legend":null},"order":{"field":"f","type":"quantitative"}}},
{"data":{"name":"d"},"transform":[{"filter":"datum.t==15"}],"mark":{"type":"point","filled":true,"opacity":1,"stroke":"#111","strokeWidth":0.8,"size":16},"encoding":{"x":{"field":"e","type":"quantitative","axis":{"values":[0,20,40,60,80,100,120],"tickSize":-4,"labels":false,"title":null}},"y":{"field":"v","type":"quantitative","axis":{"values":[-20,0,20,40,60,80],"title":null,"labelOverlap":false}},"shape":{"field":"s","type":"nominal","scale":{"domain":["sq","ci","di","tr"],"range":["square","circle","diamond","triangle-up"]},"legend":null},"fill":{"field":"s","type":"nominal","scale":{"domain":["sq","ci","di","tr"],"range":["white","white","white","#111"]},"legend":null}}},
{"data":{"values":[{}]},"mark":{"type":"text","text":"C","fontSize":14,"fontWeight":"bold","align":"left","baseline":"middle"},"encoding":{"x":{"datum":7,"type":"quantitative","axis":{"values":[0,20,40,60,80,100,120],"tickSize":-4,"labels":false,"title":null}},"y":{"datum":70,"type":"quantitative","axis":{"values":[-20,0,20,40,60,80],"title":null,"labelOverlap":false}}}}
]},
{"width":147,"height":120,"layer":[
{"data":{"values":[{}]},"mark":{"type":"rule","color":"#888","strokeDash":[5,3],"strokeWidth":0.8},"encoding":{"y":{"datum":0,"type":"quantitative","axis":{"values":[-20,0,20,40,60,80],"title":null,"labelOverlap":false}}}},
{"data":{"name":"d"},"transform":[{"filter":"datum.t==25"}],"mark":{"type":"line","color":"#111","strokeWidth":0.8},"encoding":{"x":{"field":"e","type":"quantitative","scale":{"domain":[0,120],"nice":false},"axis":{"values":[0,20,40,60,80,100,120],"tickSize":-4,"labels":false,"title":null}},"y":{"field":"v","type":"quantitative","scale":{"domain":[-20,80],"nice":false},"axis":{"values":[-20,0,20,40,60,80],"title":null,"labelOverlap":false}},"strokeDash":{"field":"s","type":"nominal","scale":{"domain":["sq","ci","di","tr"],"range":[[1,2],[5,2,1,2],[3,3],[1,0]]},"legend":null},"order":{"field":"f","type":"quantitative"}}},
{"data":{"name":"d"},"transform":[{"filter":"datum.t==25"}],"mark":{"type":"point","filled":true,"opacity":1,"stroke":"#111","strokeWidth":0.8,"size":16},"encoding":{"x":{"field":"e","type":"quantitative","axis":{"values":[0,20,40,60,80,100,120],"tickSize":-4,"labels":false,"title":null}},"y":{"field":"v","type":"quantitative","axis":{"values":[-20,0,20,40,60,80],"title":null,"labelOverlap":false}},"shape":{"field":"s","type":"nominal","scale":{"domain":["sq","ci","di","tr"],"range":["square","circle","diamond","triangle-up"]},"legend":null},"fill":{"field":"s","type":"nominal","scale":{"domain":["sq","ci","di","tr"],"range":["white","white","white","#111"]},"legend":null}}},
{"data":{"values":[{}]},"mark":{"type":"text","text":"F","fontSize":14,"fontWeight":"bold","align":"left","baseline":"middle"},"encoding":{"x":{"datum":7,"type":"quantitative","axis":{"values":[0,20,40,60,80,100,120],"tickSize":-4,"labels":false,"title":null}},"y":{"datum":70,"type":"quantitative","axis":{"values":[-20,0,20,40,60,80],"title":null,"labelOverlap":false}}}}
]},
{"width":147,"height":120,"layer":[
{"data":{"values":[{}]},"mark":{"type":"rule","color":"#888","strokeDash":[5,3],"strokeWidth":0.8},"encoding":{"y":{"datum":0,"type":"quantitative","axis":{"values":[-20,0,20,40,60,80],"title":null,"labelOverlap":false}}}},
{"data":{"name":"d"},"transform":[{"filter":"datum.t==30"}],"mark":{"type":"line","color":"#111","strokeWidth":0.8},"encoding":{"x":{"field":"e","type":"quantitative","scale":{"domain":[0,120],"nice":false},"axis":{"values":[0,20,40,60,80,100,120],"tickSize":-4,"labels":false,"title":null}},"y":{"field":"v","type":"quantitative","scale":{"domain":[-20,80],"nice":false},"axis":{"values":[-20,0,20,40,60,80],"title":null,"labelOverlap":false}},"strokeDash":{"field":"s","type":"nominal","scale":{"domain":["sq","ci","di","tr"],"range":[[1,2],[5,2,1,2],[3,3],[1,0]]},"legend":null},"order":{"field":"f","type":"quantitative"}}},
{"data":{"name":"d"},"transform":[{"filter":"datum.t==30"}],"mark":{"type":"point","filled":true,"opacity":1,"stroke":"#111","strokeWidth":0.8,"size":16},"encoding":{"x":{"field":"e","type":"quantitative","axis":{"values":[0,20,40,60,80,100,120],"tickSize":-4,"labels":false,"title":null}},"y":{"field":"v","type":"quantitative","axis":{"values":[-20,0,20,40,60,80],"title":null,"labelOverlap":false}},"shape":{"field":"s","type":"nominal","scale":{"domain":["sq","ci","di","tr"],"range":["square","circle","diamond","triangle-up"]},"legend":null},"fill":{"field":"s","type":"nominal","scale":{"domain":["sq","ci","di","tr"],"range":["white","white","white","#111"]},"legend":null}}},
{"data":{"values":[{}]},"mark":{"type":"text","text":"I","fontSize":14,"fontWeight":"bold","align":"left","baseline":"middle"},"encoding":{"x":{"datum":7,"type":"quantitative","axis":{"values":[0,20,40,60,80,100,120],"tickSize":-4,"labels":false,"title":null}},"y":{"datum":70,"type":"quantitative","axis":{"values":[-20,0,20,40,60,80],"title":null,"labelOverlap":false}}}}
]},
{"width":147,"height":120,"layer":[
{"data":{"values":[{}]},"mark":{"type":"rule","color":"#888","strokeDash":[5,3],"strokeWidth":0.8},"encoding":{"y":{"datum":0,"type":"quantitative","axis":{"values":[-20,0,20,40,60,80],"title":null,"labelOverlap":false}}}},
{"data":{"name":"d"},"transform":[{"filter":"datum.t==35"}],"mark":{"type":"line","color":"#111","strokeWidth":0.8},"encoding":{"x":{"field":"e","type":"quantitative","scale":{"domain":[0,120],"nice":false},"axis":{"values":[0,20,40,60,80,100,120],"tickSize":-4,"labels":false,"title":null}},"y":{"field":"v","type":"quantitative","scale":{"domain":[-20,80],"nice":false},"axis":{"values":[-20,0,20,40,60,80],"title":null,"labelOverlap":false}},"strokeDash":{"field":"s","type":"nominal","scale":{"domain":["sq","ci","di","tr"],"range":[[1,2],[5,2,1,2],[3,3],[1,0]]},"legend":null},"order":{"field":"f","type":"quantitative"}}},
{"data":{"name":"d"},"transform":[{"filter":"datum.t==35"}],"mark":{"type":"point","filled":true,"opacity":1,"stroke":"#111","strokeWidth":0.8,"size":16},"encoding":{"x":{"field":"e","type":"quantitative","axis":{"values":[0,20,40,60,80,100,120],"tickSize":-4,"labels":false,"title":null}},"y":{"field":"v","type":"quantitative","axis":{"values":[-20,0,20,40,60,80],"title":null,"labelOverlap":false}},"shape":{"field":"s","type":"nominal","scale":{"domain":["sq","ci","di","tr"],"range":["square","circle","diamond","triangle-up"]},"legend":null},"fill":{"field":"s","type":"nominal","scale":{"domain":["sq","ci","di","tr"],"range":["white","white","white","#111"]},"legend":null}}},
{"data":{"values":[{}]},"mark":{"type":"text","text":"L","fontSize":14,"fontWeight":"bold","align":"left","baseline":"middle"},"encoding":{"x":{"datum":7,"type":"quantitative","axis":{"values":[0,20,40,60,80,100,120],"tickSize":-4,"labels":false,"title":null}},"y":{"datum":70,"type":"quantitative","axis":{"values":[-20,0,20,40,60,80],"title":null,"labelOverlap":false}}}}
]},
{"width":147,"height":120,"layer":[
{"data":{"values":[{}]},"mark":{"type":"rule","color":"#888","strokeDash":[5,3],"strokeWidth":0.8},"encoding":{"y":{"datum":0,"type":"quantitative","axis":{"values":[-20,0,20,40,60,80],"title":null,"labelOverlap":false}}}},
{"data":{"name":"d"},"transform":[{"filter":"datum.t==40"}],"mark":{"type":"line","color":"#111","strokeWidth":0.8},"encoding":{"x":{"field":"e","type":"quantitative","scale":{"domain":[0,120],"nice":false},"axis":{"values":[0,20,40,60,80,100,120],"tickSize":-4,"labelExpr":"datum.value % 40 == 0 ? datum.label : ''","title":"Elastic Mod","labelOverlap":false}},"y":{"field":"v","type":"quantitative","scale":{"domain":[-20,80],"nice":false},"axis":{"values":[-20,0,20,40,60,80],"title":null,"labelOverlap":false}},"strokeDash":{"field":"s","type":"nominal","scale":{"domain":["sq","ci","di","tr"],"range":[[1,2],[5,2,1,2],[3,3],[1,0]]},"legend":null},"order":{"field":"f","type":"quantitative"}}},
{"data":{"name":"d"},"transform":[{"filter":"datum.t==40"}],"mark":{"type":"point","filled":true,"opacity":1,"stroke":"#111","strokeWidth":0.8,"size":16},"encoding":{"x":{"field":"e","type":"quantitative","axis":{"values":[0,20,40,60,80,100,120],"tickSize":-4,"labelExpr":"datum.value % 40 == 0 ? datum.label : ''","title":"Elastic Mod","labelOverlap":false}},"y":{"field":"v","type":"quantitative","axis":{"values":[-20,0,20,40,60,80],"title":null,"labelOverlap":false}},"shape":{"field":"s","type":"nominal","scale":{"domain":["sq","ci","di","tr"],"range":["square","circle","diamond","triangle-up"]},"legend":null},"fill":{"field":"s","type":"nominal","scale":{"domain":["sq","ci","di","tr"],"range":["white","white","white","#111"]},"legend":null}}},
{"data":{"values":[{}]},"mark":{"type":"text","text":"O","fontSize":14,"fontWeight":"bold","align":"left","baseline":"middle"},"encoding":{"x":{"datum":7,"type":"quantitative","axis":{"values":[0,20,40,60,80,100,120],"tickSize":-4,"labelExpr":"datum.value % 40 == 0 ? datum.label : ''","title":"Elastic Mod","labelOverlap":false}},"y":{"datum":70,"type":"quantitative","axis":{"values":[-20,0,20,40,60,80],"title":null,"labelOverlap":false}}}}
]}
]}
],
"config": {
"font": "Liberation Sans",
"view": {"stroke": "#222", "strokeWidth": 1},
"axis": {"labelFont": "Liberation Sans", "titleFont": "Liberation Sans", "labelFontSize": 9.5, "titleFontSize": 10.5, "titleFontWeight": "normal", "labelColor": "#111", "titleColor": "#111", "tickColor": "#222", "tickWidth": 0.8, "tickSize": 3, "labelPadding": 2, "domain": false, "grid": false, "labelFlush": false, "labelOverlap": false, "titlePadding": 1},
"axisX": {"titlePadding": 1, "labelPadding": 5.5},
"text": {"font": "Liberation Sans", "color": "#111"}
}
}
